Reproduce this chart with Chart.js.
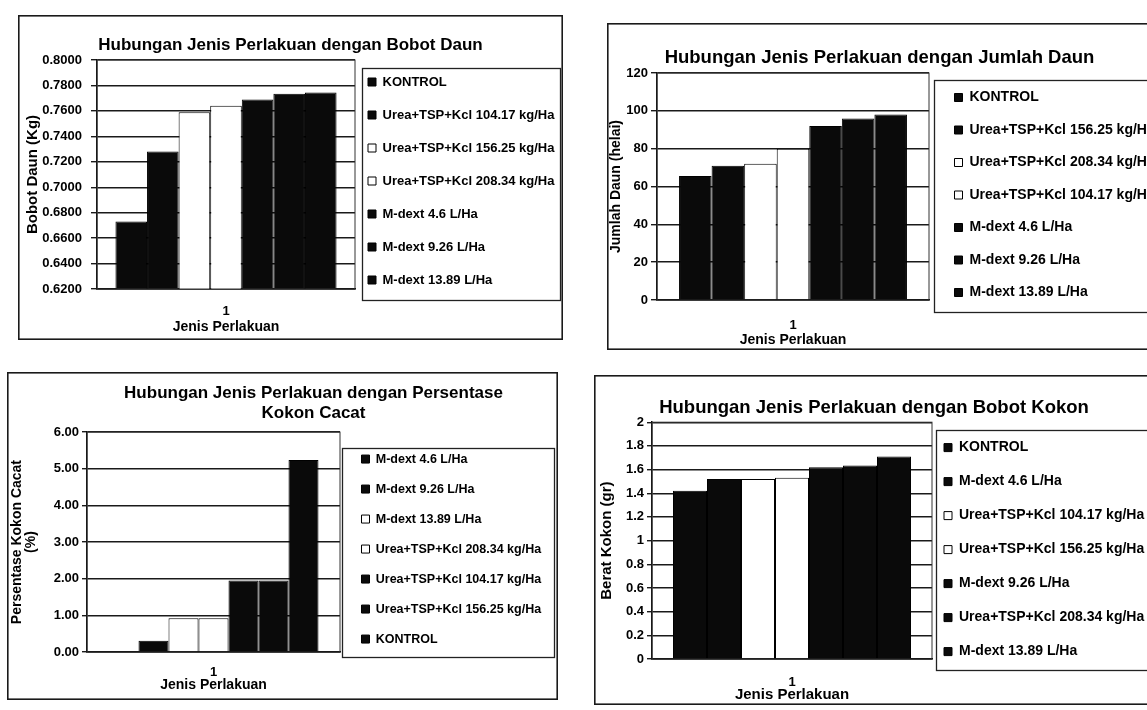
<!DOCTYPE html>
<html>
<head>
<meta charset="utf-8">
<script src="https://cdn.jsdelivr.net/npm/chart.js@4.4.1/dist/chart.umd.min.js"></script>
<style>
  html, body { margin: 0; padding: 0; background: #fff; width: 1147px; height: 710px; overflow: hidden; position: relative; }
  canvas { position: absolute; }
</style>
</head>
<body>
<canvas id="bobotDaun" style="left:18px;top:15px" width="545" height="325"></canvas>
<canvas id="jumlahDaun" style="left:607px;top:23px" width="545" height="327"></canvas>
<canvas id="kokonCacat" style="left:7px;top:372px" width="551" height="328"></canvas>
<canvas id="bobotKokon" style="left:594px;top:375px" width="560" height="330"></canvas>
<script>
// perlakuan
const KONTROL = 'KONTROL';
const U104 = 'Urea+TSP+Kcl 104.17 kg/Ha';
const U156 = 'Urea+TSP+Kcl 156.25 kg/Ha';
const U208 = 'Urea+TSP+Kcl 208.34 kg/Ha';
const M46 = 'M-dext 4.6 L/Ha';
const M926 = 'M-dext 9.26 L/Ha';
const M1389 = 'M-dext 13.89 L/Ha';

const categories = ['1'];

// Bobot Daun (Kg)
const bobotDaunNames = [KONTROL, U104, U156, U208, M46, M926, M1389];
const bobotDaunValues = [0.673, 0.728, 0.759, 0.764, 0.769, 0.7735, 0.7745];
const bobotDaunAxis = [0.62, 0.80, 0.02];

// Jumlah Daun (helai)
const jumlahDaunNames = [KONTROL, U156, U208, U104, M46, M926, M1389];
const jumlahDaunValues = [65.5, 71, 72, 80, 92, 96, 98];
const jumlahDaunAxis = [0, 120, 20];

// Persentase Kokon Cacat (%)
const kokonCacatNames = [M46, M926, M1389, U208, U104, U156, KONTROL];
const kokonCacatValues = [0, 0.31, 0.92, 0.92, 1.95, 1.95, 5.24];
const kokonCacatAxis = [0, 6, 1];

// Berat Kokon (gr)
const bobotKokonNames = [KONTROL, M46, U104, U156, M926, U208, M1389];
const bobotKokonValues = [1.42, 1.52, 1.52, 1.53, 1.62, 1.635, 1.71];
const bobotKokonAxis = [0, 2, 0.2];

Chart.defaults.font.family = "'Liberation Sans', Arial, sans-serif";
Chart.defaults.color = '#000';

// bingkai grafik, area plot dan kotak legenda
const frame = {
  id: 'frame',
  afterInit(chart, args, o) {
    const lg = chart.legend;
    const fit = lg.fit;
    lg.fit = function () {
      // satu kolom saja, walau sedikit lebih tinggi dari area plot
      this.maxHeight += 200;
      this.height += 200;
      fit.call(this);
      this.maxHeight -= 200;
      this.width = o.legendWidth;
    };
  },
  afterLayout(chart, args, o) {
    const lg = chart.legend;
    lg.left += o.dx; lg.right += o.dx;
    lg.top += o.dy - 40; lg.bottom += o.dy + 40;
    lg.height = lg.bottom - lg.top;
    if (o.titleDx) {
      chart.titleBlock.left += o.titleDx;
      chart.titleBlock.right += o.titleDx;
    }
  },
  afterDraw(chart, args, o) {
    const ctx = chart.ctx;
    const a = chart.chartArea;
    ctx.save();
    ctx.strokeStyle = '#333';
    ctx.lineWidth = 1;
    ctx.strokeRect(a.left, a.top, a.right - a.left, a.bottom - a.top);
    ctx.lineWidth = 1.3;
    ctx.strokeStyle = '#222';
    const b = o.box;
    ctx.strokeRect(b[0] + 0.5, b[1] + 0.5, b[2] - b[0], b[3] - b[1]);
    ctx.lineWidth = 1.6;
    ctx.strokeStyle = '#1a1a1a';
    ctx.strokeRect(0.8, 0.8, chart.width - 1.6, chart.height - 1.6);
    ctx.restore();
  }
};

function drawChart(id, names, values, axis, o) {
  return new Chart(document.getElementById(id), {
    type: 'bar',
    data: {
      labels: categories,
      datasets: names.map((n, i) => ({
        label: n,
        data: [values[i]],
        backgroundColor: o.hollow.includes(n) ? '#ffffff' : '#0a0a0a',
        borderColor: '#000',
        borderWidth: 1,
        categoryPercentage: o.cat,
        barPercentage: 1
      }))
    },
    options: {
      responsive: false,
      animation: false,
      layout: { padding: 0 },
      plugins: {
        title: {
          display: true, text: o.title,
          font: { size: o.titleSize, weight: 'bold', lineHeight: o.titleLh || 1.2 },
          padding: o.titlePad
        },
        legend: {
          position: 'right', fullSize: false,
          labels: {
            boxWidth: 8, boxHeight: 8, padding: o.legPad,
            font: { size: o.legSize, weight: 'bold' }
          }
        },
        tooltip: { enabled: false },
        frame: { legendWidth: o.legWidth, dx: o.dx, dy: o.dy, titleDx: o.titleDx || 0, box: o.box }
      },
      scales: {
        x: {
          grid: { display: false, drawTicks: false },
          border: { color: '#000', width: 1.5 },
          ticks: { padding: o.xPad, font: { size: 13, weight: 'bold' } },
          title: { display: true, text: 'Jenis Perlakuan', font: { size: o.xTitleSize, weight: 'bold' }, padding: { top: 0, bottom: o.xTitlePad } },
          afterFit: s => { s.height = o.xh; }
        },
        y: {
          min: axis[0], max: axis[1],
          ticks: { stepSize: axis[2], padding: o.yPad, font: { size: 13, weight: 'bold' }, callback: o.fmt },
          grid: { color: '#1a1a1a', lineWidth: 1.4, tickLength: o.tick },
          border: { color: '#000', width: 1.5 },
          title: { display: true, text: o.yTitle, font: { size: o.yTitleSize, weight: 'bold', lineHeight: o.yTitleLh || 1.2 }, padding: { top: o.yTitlePad, bottom: 0 } },
          afterFit: s => { s.width = o.yw; }
        }
      }
    },
    plugins: [frame]
  });
}

drawChart('bobotDaun', bobotDaunNames, bobotDaunValues, bobotDaunAxis, {
  title: 'Hubungan Jenis Perlakuan dengan Bobot Daun', titleSize: 17, titlePad: { top: 20, bottom: 4.6 },
  yTitle: 'Bobot Daun (Kg)', yTitleSize: 15, yTitlePad: 6, yw: 79, xh: 51, yPad: 9, tick: 6,
  xPad: 15, xTitleSize: 14, xTitlePad: 4.6,
  fmt: v => Number(v).toFixed(4),
  hollow: [U156, U208], cat: 0.857,
  legWidth: 208, legSize: 13, legPad: 20, dx: -7, dy: 6.5, box: [344, 53, 542, 285]
});

drawChart('jumlahDaun', jumlahDaunNames, jumlahDaunValues, jumlahDaunAxis, {
  title: 'Hubungan Jenis Perlakuan dengan Jumlah Daun', titleSize: 18.5, titlePad: { top: 24, bottom: 3.8 },
  yTitle: 'Jumlah Daun (helai)', yTitleSize: 14, yTitlePad: 1, yw: 50, xh: 50, yPad: 3, tick: 6,
  xPad: 18, xTitleSize: 14, xTitlePad: 1.6,
  fmt: v => String(Math.round(v)),
  hollow: [U208, U104], cat: 0.838,
  legWidth: 223, legSize: 14, legPad: 18.5, dx: 7, dy: 8.5, box: [327, 57, 560, 289]
});

drawChart('kokonCacat', kokonCacatNames, kokonCacatValues, kokonCacatAxis, {
  title: ['Hubungan Jenis Perlakuan dengan Persentase', 'Kokon Cacat'], titleSize: 17, titleLh: 1.18,
  titlePad: { top: 11, bottom: 9 }, titleDx: 31,
  yTitle: ['Persentase Kokon Cacat', '(%)'], yTitleSize: 14, yTitleLh: 1, yTitlePad: 3, yw: 80, xh: 48, yPad: 3, tick: 5,
  xPad: 13, xTitleSize: 14, xTitlePad: 6.6,
  fmt: v => Number(v).toFixed(2),
  hollow: [M1389, U208], cat: 0.83,
  legWidth: 218, legSize: 12.5, legPad: 17.5, dx: 4, dy: 7, box: [335, 76, 547, 285]
});

drawChart('bobotKokon', bobotKokonNames, bobotKokonValues, bobotKokonAxis, {
  title: 'Hubungan Jenis Perlakuan dengan Bobot Kokon', titleSize: 18.5, titlePad: { top: 22, bottom: 3 },
  yTitle: 'Berat Kokon (gr)', yTitleSize: 15, yTitlePad: 4, yw: 58, xh: 46, yPad: 3, tick: 5,
  xPad: 16, xTitleSize: 15, xTitlePad: 1.6,
  fmt: v => String(Number(Number(v).toFixed(1))),
  hollow: [U104, U156], cat: 0.85,
  legWidth: 222, legSize: 14, legPad: 20, dx: -8, dy: 9, box: [342, 55, 576, 295]
});
</script>
</body>
</html>
